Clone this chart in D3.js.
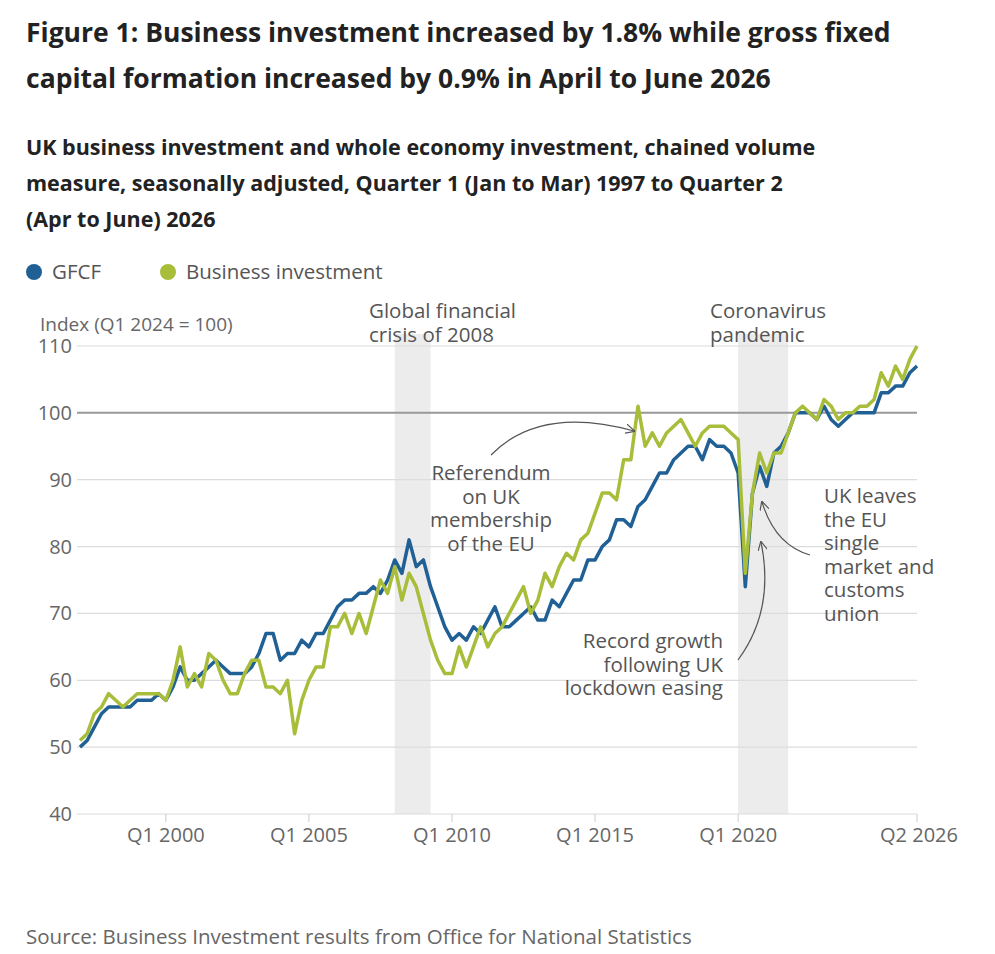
<!DOCTYPE html>
<html><head><meta charset="utf-8">
<script src="https://cdn.jsdelivr.net/npm/d3@7"></script>
<style>body{margin:0;background:#fff;font-family:"Open Sans",sans-serif;}</style>
</head><body>
<svg id="c" width="995" height="954"></svg>
<script>
const startYear = 1997;
const gfcf = [
 50,51,53,55, 56,56,56,56, 57,57,57,58, 57,59,62,60, 60,61,62,63, 62,61,61,61,
 62,64,67,67, 63,64,64,66, 65,67,67,69, 71,72,72,73, 73,74,73,75, 78,76,81,77,
 78,74,71,68, 66,67,66,68, 67,69,71,68, 68,69,70,71, 69,69,72,71, 73,75,75,78,
 78,80,81,84, 84,83,86,87, 89,91,91,93, 94,95,95,93, 96,95,95,94, 91,74,88,92,
 89,94,95,97, 100,100,100,99, 101,99,98,99, 100,100,100,100, 103,103,104,104, 106,107];
const business = [
 51,52,55,56, 58,57,56,57, 58,58,58,58, 57,60,65,59, 61,59,64,63, 60,58,58,61,
 63,63,59,59, 58,60,52,57, 60,62,62,68, 68,70,67,70, 67,71,75,73, 77,72,76,74,
 70,66,63,61, 61,65,62,65, 68,65,67,68, 70,72,74,70, 72,76,74,77, 79,78,81,82,
 85,88,88,87, 93,93,101,95, 97,95,97,98, 99,97,95,97, 98,98,98,97, 96,76,88,94,
 91,94,94,97, 100,101,100,99, 102,101,99,100, 100,101,101,102, 106,104,107,105, 108,110];
const yTicks = [40,50,60,70,80,90,100,110];
const xTickYears = [2000,2005,2010,2015,2020];
const xTickLabels = ["Q1 2000","Q1 2005","Q1 2010","Q1 2015","Q1 2020"];
const shadedPeriods = [[2008.0,2009.25],[2020.0,2021.75]];
const seriesNames = ["GFCF","Business investment"];
const colors = ["#206095","#a8bd3a"];

const svg = d3.select("#c");
const x = d3.scaleLinear().domain([1997, 2026.25]).range([80, 917]);
const y = d3.scaleLinear().domain([40, 110]).range([814, 346]);
const tOf = i => startYear + i/4;

const tt = svg.append("g").attr("font-weight","bold").attr("fill","#222");
tt.append("text").attr("x",26).attr("y",42).attr("font-size",26.5).text("Figure 1: Business investment increased by 1.8% while gross fixed");
tt.append("text").attr("x",26).attr("y",88).attr("font-size",26.5).text("capital formation increased by 0.9% in April to June 2026");
["UK business investment and whole economy investment, chained volume","measure, seasonally adjusted, Quarter 1 (Jan to Mar) 1997 to Quarter 2","(Apr to June) 2026"].forEach((s,i)=>
 tt.append("text").attr("x",26).attr("y",155+i*36).attr("font-size",21.5).text(s));

const lg = svg.append("g").attr("font-size",20.5).attr("fill","#555");
lg.append("circle").attr("cx",34).attr("cy",272).attr("r",8).attr("fill",colors[0]);
lg.append("text").attr("x",52).attr("y",279).text(seriesNames[0]);
lg.append("circle").attr("cx",168).attr("cy",272).attr("r",8).attr("fill",colors[1]);
lg.append("text").attr("x",186).attr("y",279).text(seriesNames[1]);

shadedPeriods.forEach(p=>svg.append("rect").attr("x",x(p[0])).attr("width",x(p[1])-x(p[0]))
 .attr("y",y(110)-12).attr("height",y(40)-y(110)+12).attr("fill","#ececec"));

yTicks.forEach(v=>{
 svg.append("line").attr("x1",77).attr("x2",917).attr("y1",y(v)).attr("y2",y(v))
  .attr("stroke", v===100?"#999":"#dcdcdc").attr("stroke-width", v===100?2:1.2);
 svg.append("text").attr("x",72).attr("y",y(v)+7).attr("text-anchor","end").attr("font-size",20).attr("fill","#666").text(v);
});
svg.append("text").attr("x",40).attr("y",331).attr("font-size",19).attr("fill","#666").text("Index (Q1 2024 = 100)");

const xt = xTickYears.map((v,i)=>({v,l:xTickLabels[i]})).concat([{v:2026.25,l:"Q2 2026"}]);
xt.forEach(d=>{
 svg.append("line").attr("x1",x(d.v)).attr("x2",x(d.v)).attr("y1",814).attr("y2",822).attr("stroke","#ccc");
 svg.append("text").attr("x",x(d.v)+ (d.v>2026?2:0)).attr("y",842).attr("text-anchor","middle").attr("font-size",20).attr("fill","#666").text(d.l);
});

const line = d3.line().x((d,i)=>x(tOf(i))).y(d=>y(d));
[gfcf,business].forEach((s,k)=>svg.append("path").datum(s).attr("d",line).attr("fill","none")
 .attr("stroke",colors[k]).attr("stroke-width",3.5).attr("stroke-linejoin","round"));

const at = svg.append("g").attr("font-size",20.5).attr("fill","#555");
const ml = (xx,yy,lines,anchor)=>lines.forEach((s,i)=>at.append("text").attr("x",xx).attr("y",yy+i*23.5).attr("text-anchor",anchor).text(s));
ml(369,318,["Global financial","crisis of 2008"],"start");
ml(710,318,["Coronavirus","pandemic"],"start");
ml(491,480,["Referendum","on UK","membership","of the EU"],"middle");
ml(723,648,["Record growth","following UK","lockdown easing"],"end");
ml(824,503,["UK leaves","the EU","single","market and","customs","union"],"start");

svg.append("defs").append("marker").attr("id","ah").attr("viewBox","0 0 10 10").attr("refX",9).attr("refY",5)
 .attr("markerWidth",8).attr("markerHeight",8).attr("orient","auto")
 .append("path").attr("d","M0,0 L10,5 L0,10").attr("fill","none").attr("stroke","#555").attr("stroke-width",1.2);
const arrow = d=>svg.append("path").attr("d",d).attr("fill","none").attr("stroke","#555").attr("stroke-width",1.2).attr("marker-end","url(#ah)");
arrow("M491,455 Q540,405 634,431");
arrow("M738,660 Q775,610 761,542");
arrow("M810,555 Q775,545 762,502");

svg.append("text").attr("x",26).attr("y",944).attr("font-size",20.5).attr("fill","#666")
 .text("Source: Business Investment results from Office for National Statistics");
</script>
</body></html>
